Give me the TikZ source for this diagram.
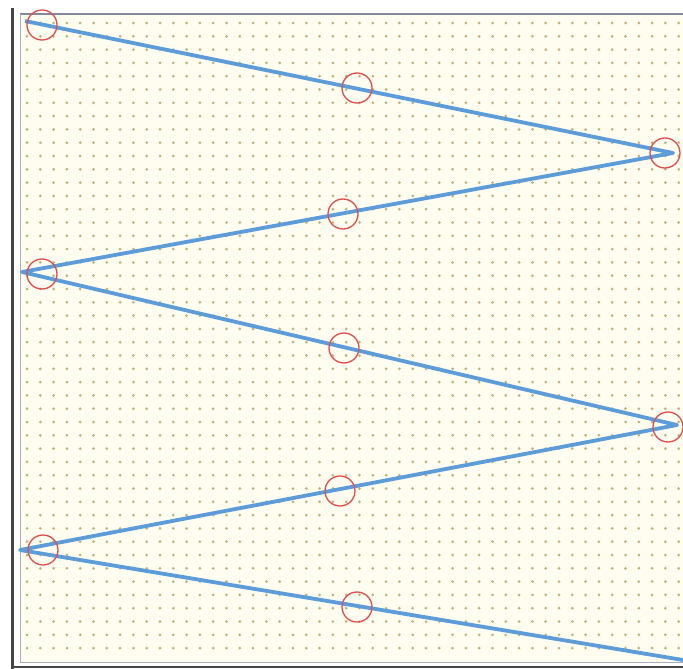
\documentclass[tikz,border=0pt]{standalone}
\usepackage{xcolor}
\usetikzlibrary{calc}
\definecolor{trace}{RGB}{92,156,216}
\definecolor{ringred}{RGB}{226,78,78}
\definecolor{grain}{RGB}{190,180,120}
\definecolor{paper}{RGB}{255,252,240}
\definecolor{rim}{RGB}{132,136,156}
\definecolor{wall}{RGB}{70,70,72}

\begin{document}
\begin{tikzpicture}[x=1pt,y=-1pt,
    ring/.style={circle,draw=ringred,line width=1.3pt,minimum size=30pt,inner sep=0pt}]
  \useasboundingbox (0,0) rectangle (683,669);
  \fill[white] (0,0) rectangle (683,669);
  \fill[paper] (20,15) rectangle (683,662);
  % dot grid
  \foreach \i in {0,...,49}
    \foreach \j in {0,...,47}
      \fill[grain] (27+13.3*\i,23+13.3*\j) circle (1.5pt);
  % frame
  \draw[rim,line width=2pt] (20,14.5) -- (683,14.5);
  \draw[wall,line width=3pt] (12,8) -- (12,669);
  \draw[rim!70,line width=0.8pt] (20,14.5) -- (20,662) -- (683,662);
  \draw[wall,line width=2pt] (12,667) -- (683,667);
  % zigzag path
  \coordinate (s0) at (25,21);
  \coordinate (s1) at (673,153);
  \coordinate (s2) at (22,272);
  \coordinate (s3) at (677,425);
  \coordinate (s4) at (20,550);
  \coordinate (s5) at (683,660);
  \draw[trace,line width=3.8pt,line join=round] (s0) -- (s1) -- (s2) -- (s3) -- (s4) -- (s5);
  % turning points
  \node[ring] (t0) at (42,25) {};
  \node[ring] (t1) at (665,153) {};
  \node[ring] (t2) at (42,274) {};
  \node[ring] (t3) at (668,427) {};
  \node[ring] (t4) at (43,550) {};
  % middle points
  \node[ring] (m1) at (357,88) {};
  \node[ring] (m2) at (343,214) {};
  \node[ring] (m3) at (344,348) {};
  \node[ring] (m4) at (340,491) {};
  \node[ring] (m5) at (357,607) {};
\end{tikzpicture}
\end{document}
